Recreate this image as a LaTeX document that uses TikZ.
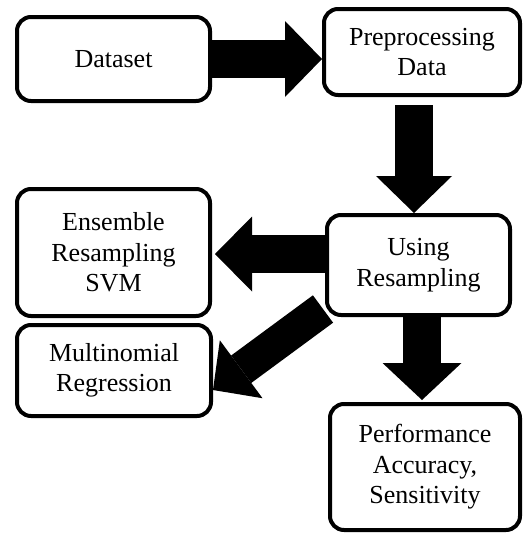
\documentclass[tikz,border=0pt]{standalone}
\usepackage{fontspec}
\setmainfont{Liberation Serif}
\usetikzlibrary{arrows.meta,calc}
\begin{document}
\begin{tikzpicture}[x=1pt,y=-1pt,
  box/.style={draw,line width=4pt,rounded corners=14pt,align=center,
    font=\fontsize{26}{30.5}\selectfont,inner sep=0pt},
  fat/.style={line width=38pt,-{Triangle[width=76pt,length=37pt,line width=0pt]}},
  fatd/.style={line width=34pt,-{Triangle[width=72pt,length=35pt,line width=0pt]}}]
\useasboundingbox (0,0) rectangle (523,533);
\node[box,minimum width=193pt,minimum height=84pt] (ds) at (113.5,59) {Dataset};
\node[box,minimum width=196pt,minimum height=86pt] (pp) at (422,52) {Preprocessing\\Data};
\node[box,minimum width=183pt,minimum height=100pt] (ur) at (418.5,265) {Using\\Resampling};
\node[box,minimum width=193pt,minimum height=127pt] (es) at (113.5,252.5) {Ensemble\\Resampling\\SVM};
\node[box,minimum width=194pt,minimum height=91pt] (mr) at (114,370.5) {Multinomial\\Regression};
\node[box,minimum width=190pt,minimum height=126pt] (pf) at (425,467) {Performance\\Accuracy,\\Sensitivity};
\coordinate (a2s) at ($(pp.south)+(-8,8)$);
\coordinate (a3s) at ($(ur.west)+(0,-11)$);
\coordinate (a4s) at ($(ur.south)+(3.5,0)$);
\coordinate (a5s) at ($(ur.south west)+(-2,-8)$);
\coordinate (a5e) at ($(mr.east)+(0,19.5)$);
\draw[fat] (ds.east) -- (ds.east -| pp.west);
\draw[fat] (a2s) -- (a2s |- ur.north);
\draw[fat,-{Triangle[width=75pt,length=37pt,line width=0pt]}] (a3s) -- ($(a3s -| es.east)+(3,0)$);
\draw[fat,-{Triangle[width=79pt,length=37pt,line width=0pt]}] (a4s) -- ($(a4s |- pf.north)+(0,-2)$);
\draw[fatd] (a5s) -- (a5e);
\end{tikzpicture}
\end{document}
